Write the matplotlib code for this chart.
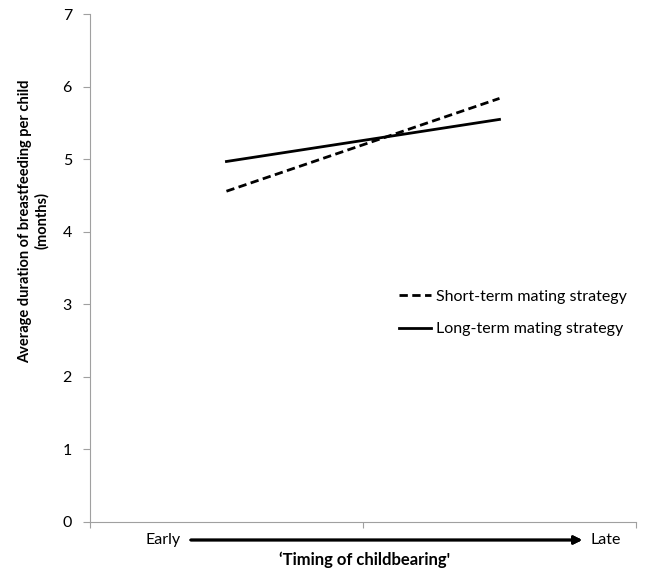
import matplotlib.pyplot as plt
from matplotlib.lines import Line2D

plt.rcParams['font.family'] = ['Lato', 'DejaVu Sans']

# ---- Data ----
timing = [0, 1]  # early, late (category positions)
short_term = [4.56, 5.84]
long_term = [4.97, 5.55]
series_labels = ["Short-term mating strategy", "Long-term mating strategy"]

fig = plt.figure(figsize=(6.47, 5.71), dpi=100)
ax = fig.add_axes([0.139, 0.086, 0.844, 0.889])

ax.plot(timing, short_term, color="black", lw=2, ls=(0, (3, 1.6)))
ax.plot(timing, long_term, color="black", lw=2)

ax.set_xlim(-0.5, 1.5)
ax.set_ylim(0, 7)
ax.set_yticks(range(8))
ax.set_xticks([-0.5, 0.5, 1.5])
ax.set_xticklabels([])

for s in ["top", "right"]:
    ax.spines[s].set_visible(False)
for s in ["left", "bottom"]:
    ax.spines[s].set_color("#a0a0a0")
ax.tick_params(axis="y", colors="#a0a0a0", labelcolor="black", labelsize=11.5, length=5, pad=8)
ax.tick_params(axis="x", colors="#a0a0a0", length=4)

ax.set_ylabel("Average duration of breastfeeding per child\n(months)",
              fontsize=10.5, fontweight="bold", linespacing=1.2)
ax.yaxis.set_label_coords(-0.075, 0.593)

# ---- Legend ----
handles = [Line2D([], [], color="black", lw=2, ls=(0, (3, 1.6))),
           Line2D([], [], color="black", lw=2)]
ax.legend(handles, series_labels, loc="center left", bbox_to_anchor=(0.54, 0.412),
          frameon=False, fontsize=11.5, handlelength=2.0, handletextpad=0.3,
          labelspacing=1.15)

# ---- X axis annotation ----
fig.text(181 / 647, 1 - 540 / 571, "Early", ha="right", va="center", fontsize=11.5)
fig.text(590 / 647, 1 - 540 / 571, "Late", ha="left", va="center", fontsize=11.5)
fig.add_artist(plt.annotate("", xy=(585 / 647, 1 - 540 / 571), xytext=(188 / 647, 1 - 540 / 571),
                            xycoords="figure fraction",
                            arrowprops=dict(arrowstyle="-|>", lw=2, color="black",
                                            mutation_scale=12)))
fig.text(365 / 647, 1 - 560 / 571, "\u2018Timing of childbearing'", ha="center", va="center",
         fontsize=12, fontweight="bold")

plt.savefig("out.png", dpi=100)
plt.close()
